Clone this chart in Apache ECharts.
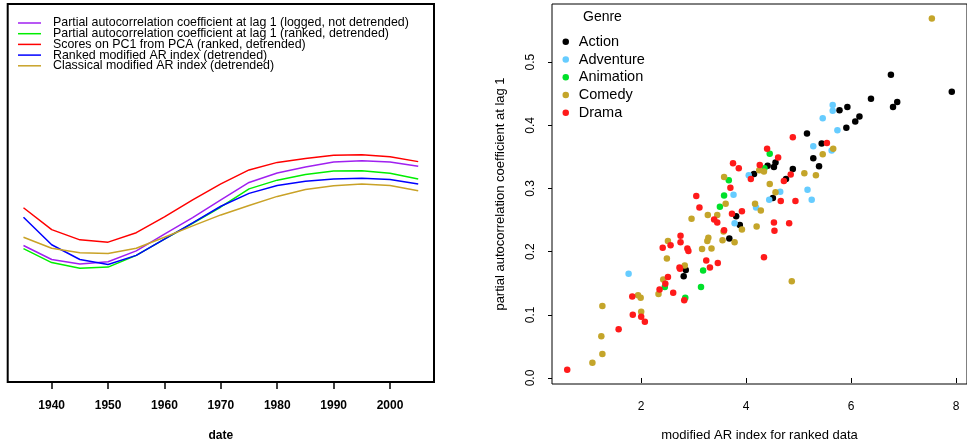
<!DOCTYPE html>
<html>
<head>
<meta charset="utf-8">
<script src="https://cdn.jsdelivr.net/npm/echarts@6/dist/echarts.min.js"></script>
<style>
  body { margin: 0; background: #fff; }
  #main { width: 967px; height: 447px; }
</style>
</head>
<body>
<div id="main"></div>
<script>
// left panel: smoothed indices over time (y scale is arbitrary, axis hidden)
const years = [1935, 1940, 1945, 1950, 1955, 1960, 1965, 1970, 1975, 1980, 1985, 1990, 1995, 2000, 2005];
const pacfLogged = [0.361, 0.324, 0.312, 0.318, 0.347, 0.391, 0.435, 0.482, 0.528, 0.553, 0.569, 0.582, 0.585, 0.582, 0.571];
const pacfRanked = [0.353, 0.316, 0.301, 0.304, 0.335, 0.378, 0.420, 0.463, 0.511, 0.534, 0.549, 0.558, 0.559, 0.552, 0.537];
const pcaScores = [0.461, 0.403, 0.376, 0.370, 0.395, 0.437, 0.482, 0.524, 0.561, 0.581, 0.591, 0.600, 0.601, 0.596, 0.583];
const rankedAR = [0.436, 0.363, 0.324, 0.311, 0.335, 0.378, 0.421, 0.465, 0.499, 0.520, 0.531, 0.537, 0.539, 0.536, 0.524];
const classicAR = [0.383, 0.354, 0.342, 0.340, 0.354, 0.383, 0.413, 0.442, 0.467, 0.491, 0.509, 0.519, 0.524, 0.520, 0.506];
const yearTicks = [1940, 1950, 1960, 1970, 1980, 1990, 2000];

// right panel: modified AR index vs partial autocorrelation, by genre
const action = [[6.76,0.480],[7.92,0.453],[6.38,0.442],[6.88,0.437],[6.80,0.429],[5.78,0.424],[5.93,0.429],[6.16,0.414],[6.08,0.406],[5.91,0.396],[5.16,0.387],[5.44,0.371],[5.28,0.348],[5.39,0.335],[4.56,0.341],[4.53,0.334],[4.41,0.336],[4.15,0.323],[4.89,0.331],[4.76,0.315],[4.51,0.285],[3.81,0.256],[3.88,0.242],[3.68,0.221],[2.85,0.171],[2.81,0.161]];
const adventure = [[5.65,0.432],[5.65,0.423],[5.46,0.411],[5.74,0.392],[5.28,0.367],[5.63,0.360],[4.05,0.321],[3.76,0.290],[4.65,0.295],[4.44,0.282],[5.17,0.298],[5.25,0.282],[4.19,0.270],[3.78,0.245],[1.76,0.165]];
const animation = [[4.45,0.355],[4.35,0.332],[3.67,0.313],[3.58,0.289],[3.50,0.271],[3.18,0.170],[3.14,0.144],[2.45,0.144],[2.84,0.127]];
const comedy = [[7.54,0.569],[5.66,0.363],[5.46,0.354],[4.25,0.329],[4.34,0.327],[3.58,0.318],[5.11,0.324],[5.33,0.321],[4.45,0.307],[4.56,0.294],[3.61,0.276],[2.96,0.252],[3.27,0.258],[3.45,0.258],[3.92,0.235],[3.57,0.232],[4.20,0.240],[3.55,0.218],[3.78,0.215],[3.28,0.222],[3.26,0.217],[3.34,0.205],[4.17,0.276],[4.28,0.265],[4.87,0.153],[2.51,0.217],[2.49,0.189],[2.83,0.178],[2.42,0.156],[2.33,0.133],[1.94,0.131],[1.99,0.127],[3.16,0.204],[1.26,0.114],[2.00,0.105],[1.24,0.066],[1.26,0.038],[1.07,0.024]];
const drama = [[4.89,0.381],[5.54,0.372],[4.40,0.363],[4.61,0.349],[4.26,0.337],[3.75,0.340],[3.86,0.332],[4.09,0.315],[4.85,0.322],[4.72,0.312],[3.70,0.301],[3.05,0.288],[3.11,0.270],[3.39,0.251],[3.45,0.246],[3.73,0.260],[3.92,0.264],[3.58,0.234],[2.88,0.205],[4.66,0.280],[4.94,0.280],[4.53,0.246],[4.54,0.233],[4.82,0.245],[4.34,0.191],[2.41,0.206],[2.56,0.210],[2.75,0.225],[2.75,0.215],[2.90,0.201],[2.73,0.175],[2.74,0.173],[2.51,0.160],[2.46,0.149],[2.35,0.140],[2.61,0.135],[1.83,0.129],[3.24,0.186],[3.31,0.175],[3.46,0.182],[2.82,0.123],[1.84,0.100],[2.00,0.097],[2.07,0.089],[1.57,0.077],[0.59,0.013]];
const xTicks = [2, 4, 6, 8];
const yTicks = [0, 0.1, 0.2, 0.3, 0.4, 0.5];

const FONT = '"Liberation Sans", Arial, sans-serif';

const lineNames = [
  'Partial autocorrelation coefficient at lag 1 (logged, not detrended)',
  'Partial autocorrelation coefficient at lag 1 (ranked, detrended)',
  'Scores on PC1 from PCA (ranked, detrended)',
  'Ranked modified AR index (detrended)',
  'Classical modified AR index (detrended)'
];
const lineData = [pacfLogged, pacfRanked, pcaScores, rankedAR, classicAR];
const lineColors = ['#A020F0', '#00EE00', '#FF0000', '#0000FF', '#C9A227'];

const genreNames = ['Action', 'Adventure', 'Animation', 'Comedy', 'Drama'];
const genreData = [action, adventure, animation, comedy, drama];
const genreColors = ['#000000', '#66CCFF', '#00E02A', '#C4A52A', '#FF1A1A'];

const chart = echarts.init(document.getElementById('main'));

let series = [];
lineData.forEach(function (vals, i) {
  series.push({
    name: lineNames[i],
    type: 'line',
    xAxisIndex: 0,
    yAxisIndex: 0,
    data: years.map(function (y, k) { return [y, vals[k]]; }),
    showSymbol: false,
    color: lineColors[i],
    lineStyle: { width: 1.5 }
  });
});
genreData.forEach(function (pts, i) {
  series.push({
    name: genreNames[i],
    type: 'scatter',
    xAxisIndex: 1,
    yAxisIndex: 1,
    data: pts,
    symbolSize: 6.5,
    color: genreColors[i],
    itemStyle: { opacity: 1 }
  });
});

let option = {
  animation: false,
  textStyle: { fontFamily: FONT },
  title: {
    text: 'Genre',
    left: 583,
    top: 10.5,
    padding: 0,
    textStyle: { fontFamily: FONT, fontSize: 14, fontWeight: 'normal', color: '#000' }
  },
  legend: [
    {
      data: lineNames,
      orient: 'vertical',
      left: 18,
      top: 17,
      padding: 0,
      itemGap: -1.3,
      itemWidth: 23,
      itemHeight: 1.5,
      icon: 'rect',
      selectedMode: false,
      textStyle: { fontFamily: FONT, fontSize: 12.4, color: '#000', padding: [0, 0, 0, 7] }
    },
    {
      data: genreNames,
      orient: 'vertical',
      left: 562.5,
      top: 33,
      padding: 0,
      itemGap: 0,
      itemWidth: 16,
      itemHeight: 6.5,
      icon: 'circle',
      selectedMode: false,
      itemStyle: { opacity: 1 },
      textStyle: { fontFamily: FONT, fontSize: 14.5, color: '#000', lineHeight: 17.7 }
    }
  ],
  grid: [
    { left: 7.7, top: 4, width: 426.3, height: 380, show: true, borderColor: '#000', borderWidth: 2, containLabel: false },
    { left: 552, top: 4, width: 426, bottom: 62, show: true, borderColor: '#000', borderWidth: 1, containLabel: false }
  ],
  xAxis: [
    {
      gridIndex: 0,
      type: 'value',
      min: 1932.2,
      max: 2007.8,
      name: 'date',
      nameLocation: 'middle',
      nameGap: 48,
      nameTextStyle: { fontFamily: FONT, fontSize: 12, fontWeight: 'bold', color: '#000' },
      axisLine: { show: false },
      splitLine: { show: false },
      axisTick: { show: true, length: 7, customValues: yearTicks, lineStyle: { color: '#000', width: 1.5 } },
      axisLabel: {
        customValues: yearTicks,
        margin: 18,
        fontFamily: FONT,
        fontSize: 12,
        fontWeight: 'bold',
        color: '#000',
        formatter: function (v) { return String(v); }
      }
    },
    {
      gridIndex: 1,
      type: 'value',
      min: 0.30,
      max: 8.21,
      name: 'modified AR index for ranked data',
      nameLocation: 'middle',
      nameGap: 45,
      nameTextStyle: { fontFamily: FONT, fontSize: 13, color: '#000' },
      axisLine: { show: false },
      splitLine: { show: false },
      axisTick: { show: true, length: 5, customValues: xTicks, lineStyle: { color: '#000' } },
      axisLabel: { customValues: xTicks, margin: 17, fontFamily: FONT, fontSize: 12, color: '#000' }
    }
  ],
  yAxis: [
    {
      gridIndex: 0,
      type: 'value',
      min: 0,
      max: 1,
      show: false
    },
    {
      gridIndex: 1,
      type: 'value',
      min: -0.0095,
      max: 0.592,
      name: 'partial autocorrelation coefficient at lag 1',
      nameLocation: 'middle',
      nameGap: 45,
      nameRotate: 90,
      nameTextStyle: { fontFamily: FONT, fontSize: 13, color: '#000' },
      axisLine: { show: false },
      splitLine: { show: false },
      axisTick: { show: true, length: 4, customValues: yTicks, lineStyle: { color: '#000' } },
      axisLabel: {
        customValues: yTicks,
        rotate: 90,
        margin: 15,
        fontFamily: FONT,
        fontSize: 12,
        color: '#000',
        formatter: function (v) { return v.toFixed(1); }
      }
    }
  ],
  series: series
};

chart.setOption(option);
</script>
</body>
</html>
